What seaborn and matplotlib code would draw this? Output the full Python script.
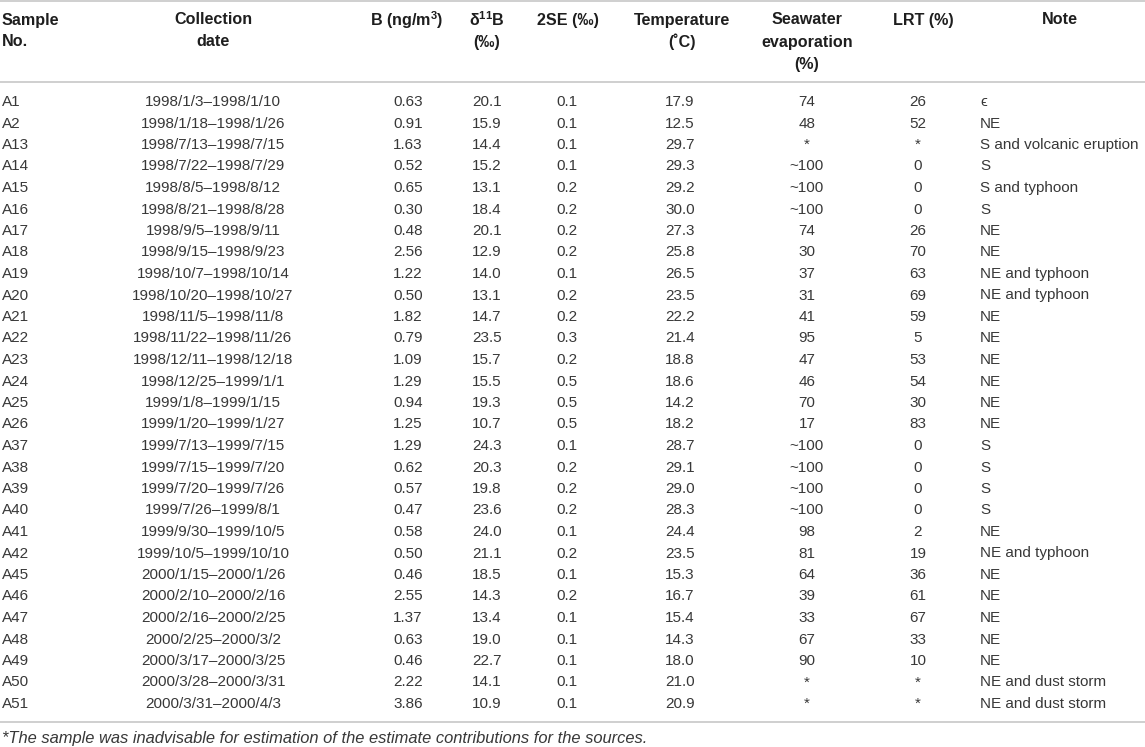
import matplotlib
matplotlib.use("Agg")
import matplotlib.pyplot as plt
import seaborn as sns

samples = ["A1", "A2", "A13", "A14", "A15", "A16", "A17", "A18", "A19", "A20",
           "A21", "A22", "A23", "A24", "A25", "A26", "A37", "A38", "A39", "A40",
           "A41", "A42", "A45", "A46", "A47", "A48", "A49", "A50", "A51"]
dates = ["1998/1/3–1998/1/10", "1998/1/18–1998/1/26", "1998/7/13–1998/7/15",
         "1998/7/22–1998/7/29", "1998/8/5–1998/8/12", "1998/8/21–1998/8/28",
         "1998/9/5–1998/9/11", "1998/9/15–1998/9/23", "1998/10/7–1998/10/14",
         "1998/10/20–1998/10/27", "1998/11/5–1998/11/8", "1998/11/22–1998/11/26",
         "1998/12/11–1998/12/18", "1998/12/25–1999/1/1", "1999/1/8–1999/1/15",
         "1999/1/20–1999/1/27", "1999/7/13–1999/7/15", "1999/7/15–1999/7/20",
         "1999/7/20–1999/7/26", "1999/7/26–1999/8/1", "1999/9/30–1999/10/5",
         "1999/10/5–1999/10/10", "2000/1/15–2000/1/26", "2000/2/10–2000/2/16",
         "2000/2/16–2000/2/25", "2000/2/25–2000/3/2", "2000/3/17–2000/3/25",
         "2000/3/28–2000/3/31", "2000/3/31–2000/4/3"]
boron = [0.63, 0.91, 1.63, 0.52, 0.65, 0.30, 0.48, 2.56, 1.22, 0.50, 1.82, 0.79,
         1.09, 1.29, 0.94, 1.25, 1.29, 0.62, 0.57, 0.47, 0.58, 0.50, 0.46, 2.55,
         1.37, 0.63, 0.46, 2.22, 3.86]
d11b = [20.1, 15.9, 14.4, 15.2, 13.1, 18.4, 20.1, 12.9, 14.0, 13.1, 14.7, 23.5,
        15.7, 15.5, 19.3, 10.7, 24.3, 20.3, 19.8, 23.6, 24.0, 21.1, 18.5, 14.3,
        13.4, 19.0, 22.7, 14.1, 10.9]
se2 = [0.1, 0.1, 0.1, 0.1, 0.2, 0.2, 0.2, 0.2, 0.1, 0.2, 0.2, 0.3, 0.2, 0.5, 0.5,
       0.5, 0.1, 0.2, 0.2, 0.2, 0.1, 0.2, 0.1, 0.2, 0.1, 0.1, 0.1, 0.1, 0.1]
temp = [17.9, 12.5, 29.7, 29.3, 29.2, 30.0, 27.3, 25.8, 26.5, 23.5, 22.2, 21.4,
        18.8, 18.6, 14.2, 18.2, 28.7, 29.1, 29.0, 28.3, 24.4, 23.5, 15.3, 16.7,
        15.4, 14.3, 18.0, 21.0, 20.9]
seawater = ["74", "48", "*", "~100", "~100", "~100", "74", "30", "37", "31", "41",
            "95", "47", "46", "70", "17", "~100", "~100", "~100", "~100", "98",
            "81", "64", "39", "33", "67", "90", "*", "*"]
lrt = ["26", "52", "*", "0", "0", "0", "26", "70", "63", "69", "59", "5", "53",
       "54", "30", "83", "0", "0", "0", "0", "2", "19", "36", "61", "67", "33",
       "10", "*", "*"]
notes = ["ϵ", "NE", "S and volcanic eruption", "S", "S and typhoon", "S", "NE", "NE",
         "NE and typhoon", "NE and typhoon", "NE", "NE", "NE", "NE", "NE", "NE",
         "S", "S", "S", "S", "NE", "NE and typhoon", "NE", "NE", "NE", "NE", "NE",
         "NE and dust storm", "NE and dust storm"]
headers = [["Sample", "No."], ["Collection", "date"], ["B (ng/m$^{3}$)"],
           ["δ$^{11}$B", "(‰)"], ["2SE (‰)"], ["Temperature", "(˚C)"],
           ["Seawater", "evaporation", "(%)"], ["LRT (%)"], ["Note"]]
footnote = "*The sample was inadvisable for estimation of the estimate contributions for the sources."

# layout
col_x = [2, 213, 408, 487, 567, 680, 807, 918, 980]
head_x = [2, 213, 407, 487, 568, 682, 807, 923, 1060]
aligns = ["left", "center", "center", "center", "center", "center", "center", "center", "left"]
head_y, head_step = 20, 22
first_y, step = 102, 21.5

sns.set_theme(style="white")
plt.rcParams["font.family"] = ["Liberation Sans", "DejaVu Sans"]
plt.rcParams["mathtext.fontset"] = "custom"
plt.rcParams["mathtext.rm"] = "Liberation Sans"
plt.rcParams["mathtext.bf"] = "Liberation Sans:bold"
plt.rcParams["mathtext.default"] = "regular"

fig = plt.figure(figsize=(11.45, 7.47), dpi=100)
ax = fig.add_axes([0, 0, 1, 1])
ax.set_xlim(0, 1145)
ax.set_ylim(747, 0)
ax.axis("off")

for y in [1, 82, 722]:
    ax.axhline(y, color="#cfcfcf", lw=1.4)

for i, lines in enumerate(headers):
    ha = "left" if i == 0 else "center"
    for k, line in enumerate(lines):
        ax.text(head_x[i], head_y + k * head_step, line, ha=ha, va="center",
                fontsize=11.6, fontweight="bold", color="#1e1e1e")

cols = [samples, dates, [f"{v:.2f}" for v in boron], [f"{v:.1f}" for v in d11b],
        [f"{v:.1f}" for v in se2], [f"{v:.1f}" for v in temp], seawater, lrt, notes]
for c, vals in enumerate(cols):
    for r, v in enumerate(vals):
        ax.text(col_x[c], first_y + r * step, v, ha=aligns[c], va="center",
                fontsize=11, color="#383838")

ax.text(2, 738, footnote, ha="left", va="center", fontsize=11.9, style="italic",
        color="#383838")

fig.savefig("out.png", dpi=100)
